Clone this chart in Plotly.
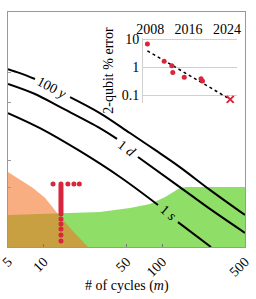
import math
import plotly.graph_objects as go

# ---------------- data ----------------
# main panel (x: number of cycles m, y: normalised vertical scale 0..1)
c100y_m = [5, 6.31, 8.45, None, 16.7, 29.8, 53.5, 87.1, 141, 253, 500]
c100y_y = [0.757, 0.740, 0.715, None, 0.638, 0.570, 0.485, 0.413, 0.340, 0.243, 0.136]

c1d_m = [5, 8.45, 13.7, 29.8, 41.6, None, 62.5, 141, 253, 500]
c1d_y = [0.694, 0.651, 0.596, 0.506, 0.460, None, 0.383, 0.255, 0.162, 0.060]

c1s_m = [5, 9.31, 19.5, 44.1, 92.2, None, 136, 258]
c1s_y = [0.570, 0.506, 0.413, 0.298, 0.179, None, 0.106, 0.0]

green_m = [5, 14.6, 29.8, 53.5, 78.9, 106, 123, 141, 162, 500]
green_y = [0.136, 0.145, 0.149, 0.166, 0.183, 0.213, 0.234, 0.251, 0.255, 0.255]

orange_m = [5, 6.31, 8.13, 10.3, 13.2, 17.3, 23.7]
orange_y = [0.319, 0.285, 0.251, 0.209, 0.140, 0.072, 0.0]

dots_m = [12, 16, 18, 20] + [14] * 21
dots_y = [0.268, 0.268, 0.268, 0.268,
          0.268, 0.260, 0.251, 0.243, 0.234, 0.226, 0.217, 0.209,
          0.200, 0.191, 0.183, 0.174, 0.166, 0.157, 0.149, 0.140,
          0.119, 0.098, 0.077, 0.051, 0.026]

x_ticks = [5, 10, 50, 100, 500]
x_tick_labels = ["5", "10", "50", "100", "500"]
y_ticks = [0.742, 0.615, 0.370, 0.255]

# inset: 2-qubit % error vs year
inset_years = [2007.4, 2010.9, 2012.5, 2012.7, 2015.1, 2018.6, 2018.9]
inset_err = [6.6, 1.6, 1.1, 0.64, 0.43, 0.38, 0.32]
target_year = [2024.7]
target_err = [0.07]
trend_years = [2007.4, 2024.7]
trend_err = [3.8, 0.07]
inset_xticks = [2008, 2016, 2024]
inset_yticks = [10, 1, 0.1]
inset_ytick_labels = ["10", "1", "0.1"]

# ---------------- figure ----------------
FONT = "Liberation Serif, DejaVu Serif, serif"
RED = "#d7263d"
fig = go.Figure()

fig.add_trace(go.Scatter(x=green_m, y=green_y, mode="lines", fill="tozeroy",
                         line=dict(width=0), fillcolor="rgb(143,222,104)",
                         hoverinfo="skip", showlegend=False))
fig.add_trace(go.Scatter(x=orange_m, y=orange_y, mode="lines", fill="tozeroy",
                         line=dict(width=0), fillcolor="rgba(244,112,36,0.57)",
                         hoverinfo="skip", showlegend=False))

for cm, cy in [(c100y_m, c100y_y), (c1d_m, c1d_y), (c1s_m, c1s_y)]:
    fig.add_trace(go.Scatter(x=cm, y=cy, mode="lines", line=dict(color="black", width=2),
                             connectgaps=False, line_shape="spline",
                             showlegend=False, hoverinfo="skip"))

fig.add_trace(go.Scatter(x=dots_m, y=dots_y, mode="markers",
                         marker=dict(color=RED, size=5), showlegend=False))

# inset traces
fig.add_trace(go.Scatter(x=trend_years, y=trend_err, mode="lines", xaxis="x2", yaxis="y2",
                         line=dict(color="black", width=1.5, dash="dot"), showlegend=False))
fig.add_trace(go.Scatter(x=inset_years, y=inset_err, mode="markers", xaxis="x2", yaxis="y2",
                         marker=dict(color=RED, size=5), showlegend=False))
fig.add_trace(go.Scatter(x=target_year, y=target_err, mode="markers", xaxis="x2", yaxis="y2",
                         marker=dict(color=RED, size=7, symbol="x-thin", line=dict(color=RED, width=2)),
                         showlegend=False))

# curve labels
for txt, xm, yv, ang in [("100 <i>y</i>", 11.7, 0.677, 28),
                         ("1 <i>d</i>", 50.5, 0.421, 38),
                         ("1 <i>s</i>", 112, 0.145, 40)]:
    fig.add_annotation(x=math.log10(xm), y=yv, text=txt, showarrow=False,
                       textangle=ang, font=dict(family=FONT, size=14, color="black"))

# x-axis title
fig.add_annotation(xref="paper", yref="paper", x=0.5, y=-0.166, yanchor="middle",
                   text="# of cycles (<i>m</i>)", showarrow=False,
                   font=dict(family=FONT, size=14, color="black"))

fig.update_layout(
    width=256, height=299,
    margin=dict(l=8, r=11, t=12, b=52),
    paper_bgcolor="white", plot_bgcolor="white",
    font=dict(family=FONT, size=14, color="black"),
    xaxis=dict(type="log", range=[0.699, 2.699], tickvals=x_ticks, ticktext=x_tick_labels,
               tickangle=-45, ticks="inside", ticklen=3, tickcolor="#777",
               ticklabeloverflow="allow",
               showline=True, linecolor="#999", linewidth=1, mirror=True,
               showgrid=False, zeroline=False, automargin=False),
    yaxis=dict(range=[0, 1], tickvals=y_ticks, showticklabels=False,
               ticks="inside", ticklen=3, tickcolor="#999",
               showline=True, linecolor="#999", linewidth=1, mirror=True,
               showgrid=False, zeroline=False, automargin=False),
    xaxis2=dict(domain=[0.570, 0.966], anchor="y2", side="top", range=[2006.5, 2026.1],
                tickvals=inset_xticks, ticks="", showgrid=False, zeroline=False,
                showline=False, automargin=False, tickfont=dict(family=FONT, size=14)),
    yaxis2=dict(domain=[0.611, 0.891], anchor="x2", type="log", range=[-1.3, 1.05],
                tickvals=inset_yticks, ticktext=inset_ytick_labels, ticks="",
                showgrid=True, gridcolor="#d0d0d0", gridwidth=1, zeroline=False,
                showline=True, linecolor="#d0d0d0", automargin=False,
                tickfont=dict(family=FONT, size=14),
                title=dict(text="2-qubit % error", font=dict(family=FONT, size=14), standoff=4)),
)

fig.write_html("out.html", config={"displayModeBar": False},
               post_script="document.body.style.margin='0px';document.body.style.padding='0px';")
